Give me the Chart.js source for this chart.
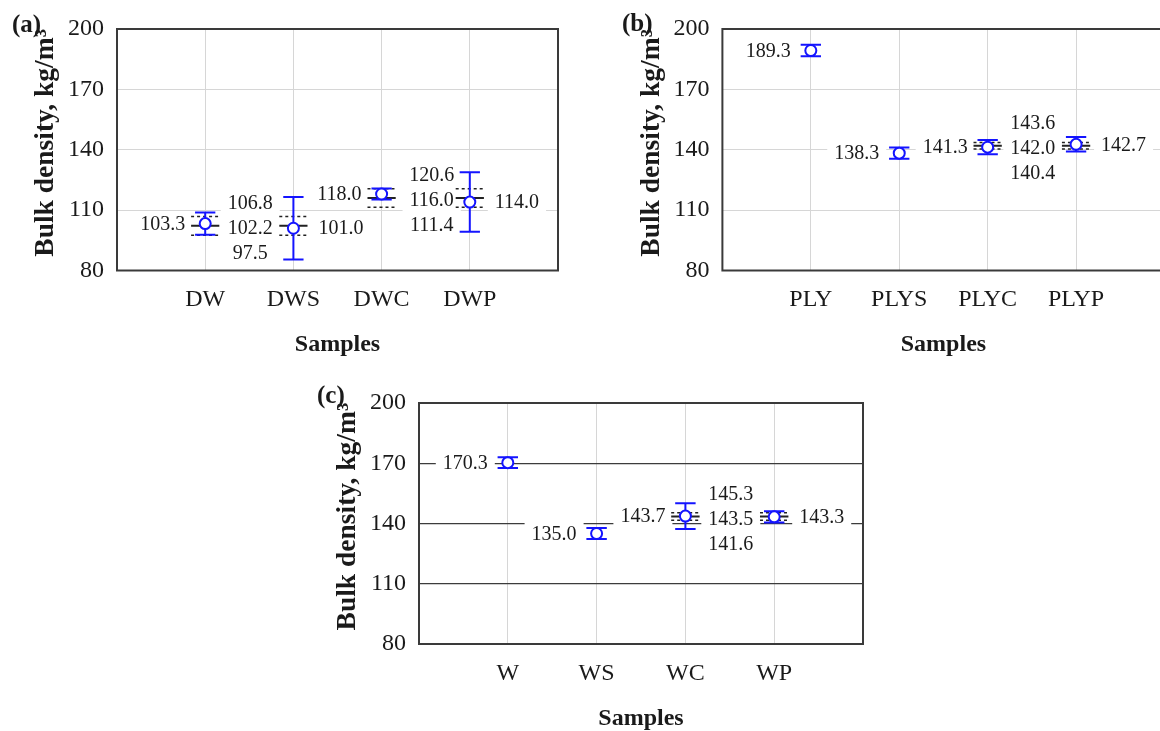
<!DOCTYPE html>
<html>
<head>
<meta charset="utf-8">
<script src="https://cdn.jsdelivr.net/npm/chart.js@4.4.0/dist/chart.umd.min.js"></script>
<style>
  html, body { margin: 0; padding: 0; background: #fff; width: 1160px; height: 731px; overflow: hidden; }
  .panel { position: absolute; overflow: hidden; }
  .panel canvas { display: block; }
</style>
</head>
<body>
<div class="panel" style="left:0;top:0;width:580px;height:365px">
  <canvas id="cA" width="580" height="365" style="width:580px;height:365px"></canvas>
</div>
<div class="panel" style="left:580px;top:0;width:580px;height:365px">
  <canvas id="cB" width="592" height="365" style="width:592px;height:365px"></canvas>
</div>
<div class="panel" style="left:290px;top:375px;width:590px;height:356px">
  <canvas id="cC" width="590" height="356" style="width:590px;height:356px"></canvas>
</div>
<script>
// panel (a)
const catsA = ['DW', 'DWS', 'DWC', 'DWP'];
const meanA = [103.3, 101.0, 118.0, 114.0];
const errA = [5.5, 15.5, 2.7, 14.8];
const refHiA = [106.8, 106.8, 120.6, 120.6];
const refMidA = [102.2, 102.2, 116.0, 116.0];
const refLoA = [97.5, 97.5, 111.4, 111.4];
const sideA = ['left', 'right', 'left', 'right'];

// panel (b)
const catsB = ['PLY', 'PLYS', 'PLYC', 'PLYP'];
const meanB = [189.3, 138.3, 141.3, 142.7];
const errB = [2.9, 2.8, 3.5, 3.6];
const refHiB = [null, null, 143.6, 143.6];
const refMidB = [null, null, 142.0, 142.0];
const refLoB = [null, null, 140.4, 140.4];
const sideB = ['left', 'left', 'left', 'right'];

// panel (c)
const catsC = ['W', 'WS', 'WC', 'WP'];
const meanC = [170.3, 135.0, 143.7, 143.3];
const errC = [2.7, 2.7, 6.4, 2.8];
const refHiC = [null, null, 145.3, 145.3];
const refMidC = [null, null, 143.5, 143.5];
const refLoC = [null, null, 141.6, 141.6];
const sideC = ['left', 'left', 'left', 'right'];

const yMin = 80, yMax = 200, yStep = 30;

Chart.defaults.font.family = "'Liberation Serif', 'Times New Roman', serif";
Chart.defaults.color = '#1a1a1a';

const BLUE = '#1414ff';
const CAP = 0.115;   // half cap width, x units
const REF = 0.16;    // half width of reference segments
const Y_TITLE_SIZE = 27.5;

function errorBars(means, errs) {
    const out = [];
    means.forEach((m, i) => {
        const x = i + 1, hi = m + errs[i], lo = m - errs[i];
        out.push({x: x, y: lo}, {x: x, y: hi}, {x: x, y: null});
        out.push({x: x - CAP, y: hi}, {x: x + CAP, y: hi}, {x: x, y: null});
        out.push({x: x - CAP, y: lo}, {x: x + CAP, y: lo}, {x: x, y: null});
    });
    return out;
}

function segments(vals) {
    const out = [];
    vals.forEach((v, i) => {
        if (v == null) return;
        out.push({x: i + 1 - REF, y: v}, {x: i + 1 + REF, y: v}, {x: i + 1, y: null});
    });
    return out;
}

// groups of neighbouring categories sharing the same reference value
function refGroups(mid, hi, lo) {
    const groups = [];
    mid.forEach((v, i) => {
        if (v == null) return;
        const g = groups[groups.length - 1];
        if (g && g.mid === v && g.to === i - 1) g.to = i;
        else groups.push({from: i, to: i, mid: v, hi: hi[i], lo: lo[i]});
    });
    return groups;
}

function boxedText(ctx, txt, x, y, align) {
    const w = ctx.measureText(txt).width;
    const left = align === 'right' ? x - w : align === 'center' ? x - w / 2 : x;
    ctx.fillStyle = '#fff';
    ctx.fillRect(left - 7, y - 12, w + 14, 24);
    ctx.fillStyle = '#1a1a1a';
    ctx.textAlign = align;
    ctx.fillText(txt, x, y);
}

const decor = {
    id: 'decor',
    beforeDatasetsDraw(chart, args, o) {
        const ctx = chart.ctx, xs = chart.scales.x, ys = chart.scales.y;
        ctx.save();
        ctx.font = "20px 'Liberation Serif'";
        ctx.textBaseline = 'middle';
        o.means.forEach((m, i) => {
            const px = xs.getPixelForValue(i + 1), py = ys.getPixelForValue(m) + 1;
            if (o.sides[i] === 'left') boxedText(ctx, m.toFixed(1), px - 20, py, 'right');
            else boxedText(ctx, m.toFixed(1), px + 25, py, 'left');
        });
        refGroups(o.refMid, o.refHi, o.refLo).forEach((g, k) => {
            const cx = (xs.getPixelForValue(g.from + 1) + xs.getPixelForValue(g.to + 1)) / 2 + 1 + (o.refShift[k] || 0);
            const cy = ys.getPixelForValue(g.mid) + 3;
            boxedText(ctx, g.hi.toFixed(1), cx, cy - 25, 'center');
            boxedText(ctx, g.mid.toFixed(1), cx, cy, 'center');
            boxedText(ctx, g.lo.toFixed(1), cx, cy + 25, 'center');
        });
        ctx.restore();
    },
    afterDatasetsDraw(chart) {
        const a = chart.chartArea, ctx = chart.ctx;
        ctx.save();
        ctx.strokeStyle = '#3a3a3a';
        ctx.lineWidth = 2;
        ctx.strokeRect(a.left, a.top, a.right - a.left, a.bottom - a.top);
        ctx.restore();
    },
    afterDraw(chart, args, o) {
        const ctx = chart.ctx;
        ctx.save();
        ctx.font = "bold 25px 'Liberation Serif'";
        ctx.fillStyle = '#1a1a1a';
        ctx.textBaseline = 'middle';
        ctx.textAlign = 'left';
        ctx.fillText(o.tag, o.tagX, o.tagY);
        ctx.restore();
    }
};

function makePanel(id, p) {
    const canvas = document.getElementById(id);
    const W = canvas.width, H = canvas.height;
    return new Chart(canvas, {
        type: 'scatter',
        data: {
            datasets: [
                {
                    data: p.means.map((m, i) => ({x: i + 1, y: m})),
                    pointStyle: 'circle',
                    pointRadius: 5.5,
                    borderColor: BLUE,
                    backgroundColor: '#fff',
                    borderWidth: 2,
                    order: 0
                },
                {
                    data: errorBars(p.means, p.errs),
                    showLine: true,
                    spanGaps: false,
                    pointRadius: 0,
                    borderColor: BLUE,
                    borderWidth: 2,
                    order: 1
                },
                {
                    data: segments(p.refMid),
                    showLine: true,
                    spanGaps: false,
                    pointRadius: 0,
                    borderColor: '#222',
                    borderWidth: 2,
                    order: 2
                },
                {
                    data: segments(p.refHi).concat(segments(p.refLo)),
                    showLine: true,
                    spanGaps: false,
                    pointRadius: 0,
                    borderColor: '#222',
                    borderWidth: 1.5,
                    borderDash: [3, 3],
                    order: 2
                }
            ]
        },
        options: {
            responsive: false,
            animation: false,
            events: [],
            devicePixelRatio: 1,
            layout: {padding: {top: p.area.top, right: W - p.area.right, left: 0, bottom: 0}},
            plugins: {
                legend: {display: false},
                tooltip: {enabled: false},
                decor: {means: p.means, sides: p.sides, refHi: p.refHi, refMid: p.refMid, refLo: p.refLo,
                        refShift: p.refShift || [], tag: p.tag, tagX: p.tagX, tagY: p.tagY}
            },
            scales: {
                x: {
                    type: 'linear',
                    min: 0,
                    max: p.cats.length + 1,
                    afterBuildTicks: s => { s.ticks = p.cats.map((c, i) => ({value: i + 1})); },
                    afterFit: s => { s.height = H - p.area.bottom; },
                    ticks: {
                        callback: (v, i) => p.cats[i],
                        font: {size: 24},
                        padding: 15,
                        maxRotation: 0
                    },
                    grid: {color: '#d6d6d6', lineWidth: 1, drawTicks: false},
                    border: {display: false},
                    title: {
                        display: true,
                        text: 'Samples',
                        font: {size: 24, weight: 'bold'},
                        padding: {top: 0, bottom: p.xTitlePad}
                    }
                },
                y: {
                    min: yMin,
                    max: yMax,
                    afterFit: s => { s.width = p.area.left; },
                    ticks: {stepSize: yStep, font: {size: 24}, padding: 13},
                    grid: {
                        color: c => (c.tick.value === yMin || c.tick.value === yMax) ? 'rgba(0,0,0,0)' : p.hGrid,
                        lineWidth: p.hGridWidth,
                        drawTicks: false
                    },
                    border: {display: false},
                    title: {
                        display: true,
                        text: '  Bulk density, kg/m³',
                        font: {size: Y_TITLE_SIZE, weight: 'bold'},
                        // title centre sits about 72px left of the plot
                        padding: {top: p.area.left - 71 - Y_TITLE_SIZE * 0.6, bottom: 0}
                    }
                }
            }
        },
        plugins: [decor]
    });
}

makePanel('cA', {
    cats: catsA, means: meanA, errs: errA, refHi: refHiA, refMid: refMidA, refLo: refLoA, sides: sideA,
    refShift: [0, 5],
    area: {left: 117, top: 29, right: 558, bottom: 270.5},
    hGrid: '#d6d6d6', hGridWidth: 1, xTitlePad: 6,
    tag: '(a)', tagX: 12, tagY: 26
});

makePanel('cB', {
    cats: catsB, means: meanB, errs: errB, refHi: refHiB, refMid: refMidB, refLo: refLoB, sides: sideB,
    area: {left: 142.4, top: 29, right: 585, bottom: 270.5},
    hGrid: '#d6d6d6', hGridWidth: 1, xTitlePad: 6,
    tag: '(b)', tagX: 42, tagY: 25
});

makePanel('cC', {
    cats: catsC, means: meanC, errs: errC, refHi: refHiC, refMid: refMidC, refLo: refLoC, sides: sideC,
    area: {left: 129, top: 28, right: 573, bottom: 269},
    hGrid: '#3c3c3c', hGridWidth: 1.3, xTitlePad: -2,
    tag: '(c)', tagX: 27, tagY: 22
});
</script>
</body>
</html>
